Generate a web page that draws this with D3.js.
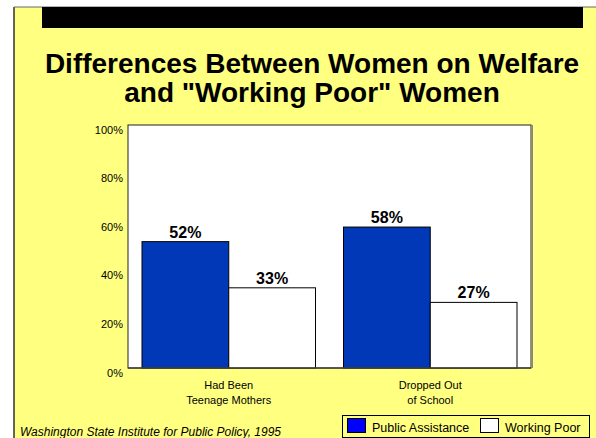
<!DOCTYPE html>
<html>
<head>
<meta charset="utf-8">
<script src="https://cdn.jsdelivr.net/npm/d3@7"></script>
<style>
  html, body { margin: 0; padding: 0; background: #ffffff; }
  svg { display: block; font-family: "Liberation Sans", Arial, sans-serif; }
</style>
</head>
<body>
<svg id="chart" width="596" height="438"></svg>
<script>
// Chart data
const categories = ["Had Been Teenage Mothers", "Dropped Out of School"];
const categoryLines = [["Had Been", "Teenage Mothers"], ["Dropped Out", "of School"]];
const seriesNames = ["Public Assistance", "Working Poor"];
const publicAssistance = [52, 58];
const workingPoor = [33, 27];
const yTicks = [0, 20, 40, 60, 80, 100];
const titleLines = ["Differences Between Women on Welfare", "and \"Working Poor\" Women"];
const sourceText = "Washington State Institute for Public Policy, 1995";

const seriesValues = [publicAssistance, workingPoor];
const barColors = ["#0038b8", "#ffffff"];
const legendColors = ["#0000ff", "#ffffff"];

const svg = d3.select("#chart");
const W = 596, H = 438;

// Slide background with frame
svg.append("rect").attr("x", 0).attr("y", 0).attr("width", W).attr("height", H).attr("fill", "#ffffff");
svg.append("rect").attr("x", 14).attr("y", 7).attr("width", W - 14).attr("height", H - 7).attr("fill", "#ffff80");
svg.append("line").attr("x1", 14).attr("x2", 14).attr("y1", 7).attr("y2", H)
  .attr("stroke", "#333333").attr("stroke-width", 1.5);
svg.append("line").attr("x1", 14).attr("x2", W).attr("y1", 7).attr("y2", 7)
  .attr("stroke", "#666666").attr("stroke-width", 1);

// Black header band
svg.append("rect").attr("x", 42).attr("y", 7).attr("width", 541).attr("height", 21).attr("fill", "#000000");

// Title
svg.append("g").selectAll("text").data(titleLines).join("text")
  .attr("x", 312)
  .attr("y", (d, i) => 73 + i * 29)
  .attr("text-anchor", "middle")
  .attr("font-size", 28)
  .attr("font-weight", "bold")
  .attr("fill", "#000000")
  .text(d => d);

// Plot area
const plot = { left: 128, right: 531, top: 125, bottom: 368 };

const x0 = d3.scaleBand().domain(categories).range([plot.left, plot.right]).padding(0);
const x1 = d3.scaleBand().domain(seriesNames).range([14, x0.bandwidth() - 14]).padding(0);
const y = d3.scaleLinear().domain([0, 100]).range([plot.bottom, plot.top]);

svg.append("rect")
  .attr("x", plot.left).attr("y", plot.top)
  .attr("width", plot.right - plot.left).attr("height", plot.bottom - plot.top)
  .attr("fill", "#ffffff").attr("stroke", "#222222").attr("stroke-width", 1);
// subtle shadow on right edge
svg.append("line").attr("x1", plot.right + 1.5).attr("x2", plot.right + 1.5)
  .attr("y1", plot.top).attr("y2", plot.bottom)
  .attr("stroke", "#888888").attr("stroke-width", 1);

// Y axis labels
const yAxis = d3.axisLeft(y).tickValues(yTicks).tickFormat(d => d + "%").tickSize(0).tickPadding(5);
const yg = svg.append("g").attr("transform", `translate(${plot.left},0)`).call(yAxis);
yg.select(".domain").remove();
yg.selectAll("text")
  .attr("font-family", "'Liberation Sans', Arial, sans-serif")
  .attr("font-size", 11)
  .attr("fill", "#000000")
  .attr("dy", "0.32em")
  .attr("transform", "translate(0,4.5)");

// Bars
const rows = categories.map((c, i) => ({ cat: c, vals: seriesNames.map((s, j) => ({ s, j, v: seriesValues[j][i] })) }));
const groups = svg.append("g").selectAll("g").data(rows).join("g")
  .attr("transform", d => `translate(${x0(d.cat)},0)`);

groups.selectAll("rect").data(d => d.vals).join("rect")
  .attr("x", d => x1(d.s))
  .attr("y", d => y(d.v))
  .attr("width", x1.bandwidth())
  .attr("height", d => y(0) - y(d.v))
  .attr("fill", d => barColors[d.j])
  .attr("stroke", "#000000")
  .attr("stroke-width", 1);

groups.selectAll("text.val").data(d => d.vals).join("text")
  .attr("class", "val")
  .attr("x", d => x1(d.s) + x1.bandwidth() / 2)
  .attr("y", d => y(d.v) - 4)
  .attr("text-anchor", "middle")
  .attr("font-size", 16)
  .attr("font-weight", "bold")
  .attr("fill", "#000000")
  .text(d => d.v + "%");

// Baseline
svg.append("line").attr("x1", plot.left).attr("x2", plot.right)
  .attr("y1", plot.bottom).attr("y2", plot.bottom)
  .attr("stroke", "#444444").attr("stroke-width", 1.5);

// Category labels
const catG = svg.append("g").selectAll("text").data(categories).join("text")
  .attr("x", d => x0(d) + x0.bandwidth() / 2)
  .attr("y", 389)
  .attr("text-anchor", "middle")
  .attr("font-size", 11)
  .attr("fill", "#000000");
catG.selectAll("tspan").data((d, i) => categoryLines[i]).join("tspan")
  .attr("x", function () { return d3.select(this.parentNode).attr("x"); })
  .attr("dy", (d, i) => i === 0 ? 0 : 15)
  .text(d => d);

// Legend
const legend = svg.append("g");
legend.append("rect").attr("x", 342.5).attr("y", 415.5).attr("width", 247).attr("height", 22)
  .attr("fill", "#ffff80").attr("stroke", "#000000").attr("stroke-width", 1);
const legendX = [347, 480];
const legendItems = legend.selectAll("g").data(seriesNames).join("g")
  .attr("transform", (d, i) => `translate(${legendX[i]},418)`);
legendItems.append("rect").attr("x", 0.5).attr("y", 0.5).attr("width", 18).attr("height", 14)
  .attr("fill", (d, i) => legendColors[i]).attr("stroke", "#000000").attr("stroke-width", 1);
legendItems.append("text").attr("x", 25).attr("y", 14)
  .attr("font-size", 12.5).attr("fill", "#000000").text(d => d);

// Source note
svg.append("text").attr("x", 20).attr("y", 436)
  .attr("font-size", 12).attr("font-style", "italic").attr("fill", "#000000")
  .text(sourceText);
</script>
</body>
</html>
